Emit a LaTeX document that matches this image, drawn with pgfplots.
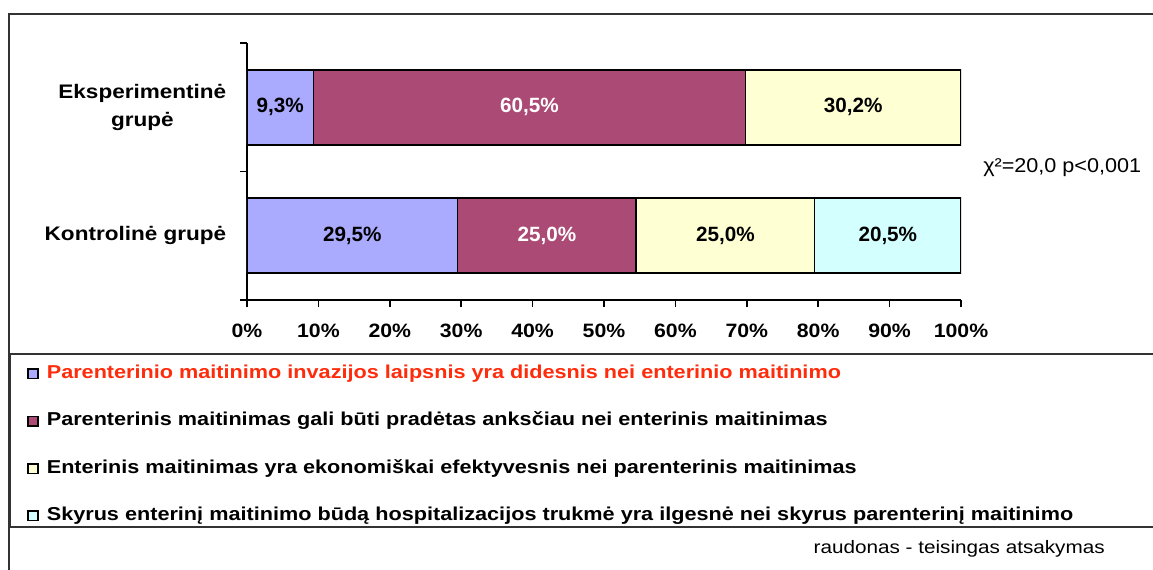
\documentclass[border=0pt]{standalone}
\usepackage{pgfplots}
\pgfplotsset{compat=1.18}
\usepackage{fontspec}
\setmainfont{Liberation Sans}
\newfontfamily\wideB[FakeStretch=1.15]{Liberation Sans}
\newfontfamily\wideL[FakeStretch=1.16]{Liberation Sans}
\newfontfamily\wideT[FakeStretch=1.1]{Liberation Sans}
\newfontfamily\wideR[FakeStretch=1.08]{Liberation Sans}
\newfontfamily\wideN[FakeStretch=1.15]{Liberation Sans}
\definecolor{cPeri}{RGB}{170,170,255}
\definecolor{cMaroon}{RGB}{170,74,117}
\definecolor{cYellow}{RGB}{255,255,212}
\definecolor{cCyan}{RGB}{212,255,255}
\definecolor{cRed}{RGB}{255,44,12}
\begin{document}
\begin{tikzpicture}
\useasboundingbox (0,0) rectangle (864.75pt,-427.5pt);
\draw[line width=1.4pt, black!80] (6.75pt,-10.5pt) rectangle (900pt,-460pt);
\draw[line width=1.4pt, black!80] (7.5pt,-265.5pt) rectangle (900pt,-395.25pt);
\begin{axis}[
  at={(185.25pt,-225pt)}, anchor=south west,
  scale only axis, width=535.5pt, height=192.75pt,
  xbar stacked, bar width=56.25pt,
  xmin=0, xmax=100, ymin=-0.5, ymax=1.5,
  axis x line*=bottom, axis y line*=left,
  axis line style={line width=1.3pt},
  tick align=outside, major tick length=5.25pt,
  tick style={line width=1.3pt, black},
  xtick={0,10,...,100},
  xticklabels={0\%,10\%,20\%,30\%,40\%,50\%,60\%,70\%,80\%,90\%,100\%},
  xticklabel style={font=\wideT\bfseries\fontsize{14.5}{16}\selectfont, yshift=-9pt},
  ytick={-0.5,0.5,1.5}, yticklabels={},
  extra y ticks={0,1},
  extra y tick labels={Kontrolinė grupė,{Eksperimentinė\\grupė}},
  extra y tick style={major tick length=0pt, yticklabel style={align=center, font=\wideB\bfseries\fontsize{14.7}{21}\selectfont, xshift=-12pt}},
  every axis plot/.append style={draw=black, line width=1.2pt},
  visualization depends on={rawx \as \rawxv},
  nodes near coords={\pgfmathprintnumber[fixed,fixed zerofill,precision=1,use comma,assume math mode=true]{\rawxv}\%},
  every node near coord/.style={anchor=center, font=\bfseries\fontsize{15.5}{17}\selectfont},
  legend style={at={(-0.3081,-0.2529)}, anchor=north west, draw=none, fill=none,
    inner sep=0pt, row sep=22.5pt,
    nodes={inner sep=0pt, text height=10pt, text depth=3pt},
    font=\wideL\bfseries\fontsize{14}{16}\selectfont},
  legend cell align=left,
]
\addplot[fill=cPeri, legend image code/.code={\draw[fill=cPeri,draw=black,line width=1.1pt] (0pt,-3.6pt) rectangle (7.6pt,3.6pt); \path (13.5pt,0pt);}]
  coordinates {(29.5,0) (9.3,1)};
\addplot[fill=cMaroon, nodes near coords style={text=white}, legend image code/.code={\draw[fill=cMaroon,draw=black,line width=1.1pt] (0pt,-3.6pt) rectangle (7.6pt,3.6pt); \path (13.5pt,0pt);}]
  coordinates {(25.0,0) (60.5,1)};
\addplot[fill=cYellow, legend image code/.code={\draw[fill=cYellow,draw=black,line width=1.1pt] (0pt,-3.6pt) rectangle (7.6pt,3.6pt); \path (13.5pt,0pt);}]
  coordinates {(25.0,0) (30.2,1)};
\addplot[fill=cCyan, legend image code/.code={\draw[fill=cCyan,draw=black,line width=1.1pt] (0pt,-3.6pt) rectangle (7.6pt,3.6pt); \path (13.5pt,0pt);}]
  coordinates {(20.5,0)};
\addlegendentry{\textcolor{cRed}{Parenterinio maitinimo invazijos laipsnis yra didesnis nei enterinio maitinimo}}
\addlegendentry{Parenterinis maitinimas gali būti pradėtas anksčiau nei enterinis maitinimas}
\addlegendentry{Enterinis maitinimas yra ekonomiškai efektyvesnis nei parenterinis maitinimas}
\addlegendentry{Skyrus enterinį maitinimo būdą hospitalizacijos trukmė yra ilgesnė nei skyrus parenterinį maitinimo}
\end{axis}
\node[anchor=west, inner sep=0pt, font=\wideR\fontsize{15}{17}\selectfont] at (737.25pt,-125.5pt) {χ²=20,0 p<0,001};
\node[anchor=east, inner sep=0pt, font=\wideN\fontsize{13.5}{15}\selectfont] at (828.75pt,-411.5pt) {raudonas - teisingas atsakymas};
\end{tikzpicture}
\end{document}
